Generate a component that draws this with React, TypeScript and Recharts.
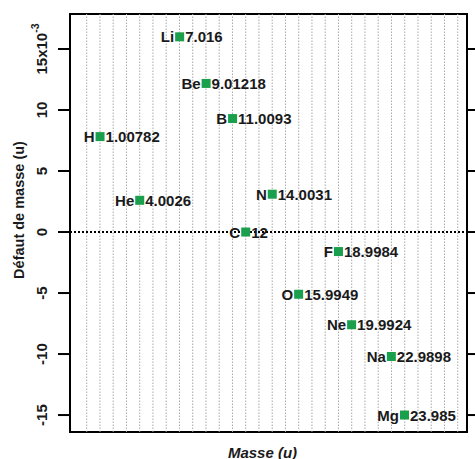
import { Label, ReferenceArea, ReferenceLine, Scatter, ScatterChart, XAxis, YAxis } from "recharts"

const symbols = ["H", "He", "Li", "Be", "B", "C", "N", "O", "F", "Ne", "Na", "Mg"]
const masses = [1.00782, 4.0026, 7.016, 9.01218, 11.0093, 12, 14.0031, 15.9949, 18.9984, 19.9924, 22.9898, 23.985]
const massLabels = ["1.00782", "4.0026", "7.016", "9.01218", "11.0093", "12", "14.0031", "15.9949", "18.9984", "19.9924", "22.9898", "23.985"]
// défaut de masse en 10^-3 u
const defects = [7.82, 2.6, 16.0, 12.18, 9.3, 0, 3.1, -5.1, -1.6, -7.6, -10.2, -15.0]

const yTicks = [-15, -10, -5, 0, 5, 10, 15]
const xGrid = [0, 1, 2, 3, 4, 5, 6, 7, 8, 9, 10, 11, 12, 13, 14, 15, 16, 17, 18, 19, 20, 21, 22, 23, 24, 25, 26, 27, 28]

const X_DOMAIN = [-1.26, 28.7]
const Y_DOMAIN = [-16.39, 17.87]

const data = symbols.map((s, i) => ({ sym: s, mass: masses[i], label: massLabels[i], defect: defects[i] }))

const FONT = "'Liberation Sans', Arial, Helvetica, sans-serif"
const GREEN = "#1a9f4c"

const PointShape = (props: any) => {
  const { cx, cy, payload } = props
  const s = 9
  return (
    <g>
      <rect x={cx - s / 2} y={cy - s / 2} width={s} height={s} fill={GREEN} />
      <text x={cx - s / 2 - 1} y={cy} textAnchor="end" dominantBaseline="central" fontFamily={FONT} fontWeight="bold" fontSize={15} fill="#1a1a1a">
        {payload.sym}
      </text>
      <text x={cx + s / 2 + 1} y={cy} textAnchor="start" dominantBaseline="central" fontFamily={FONT} fontWeight="bold" fontSize={15} fill="#1a1a1a">
        {payload.label}
      </text>
    </g>
  )
}

const LeftTick = (props: any) => {
  const { y, payload } = props
  const x = 41.5
  return (
    <text x={x} y={y} transform={`rotate(-90, ${x}, ${y})`} textAnchor="middle" dominantBaseline="central" fontFamily={FONT} fontWeight="bold" fontSize={15} fill="#1a1a1a">
      {payload.value === 15 ? (
        <>
          15x10
          <tspan dy={-6} fontSize={10.5}>-3</tspan>
        </>
      ) : (
        payload.value
      )}
    </text>
  )
}

export default function App() {
  return (
    <div style={{ position: "absolute", left: 0, top: 0, width: 475, height: 459, background: "#fff" }}>
      <ScatterChart width={475} height={459} margin={{ top: 14, right: 0, bottom: 0, left: 0 }}>
        <XAxis
          type="number"
          dataKey="mass"
          domain={X_DOMAIN}
          ticks={xGrid}
          allowDataOverflow
          height={27}
          tick={false}
          tickLine={false}
          axisLine={false}
        >
          <Label
            content={({ viewBox }: any) => (
              <text x={viewBox.x + viewBox.width / 2 - 6} y={viewBox.y + 20} textAnchor="middle" dominantBaseline="central" fontFamily={FONT} fontWeight="bold" fontStyle="italic" fontSize={15} fill="#1a1a1a">
                Masse (u)
              </text>
            )}
          />
        </XAxis>
        <YAxis
          yAxisId="left"
          type="number"
          dataKey="defect"
          domain={Y_DOMAIN}
          ticks={yTicks}
          allowDataOverflow
          width={70}
          tickSize={12}
          tickLine={{ stroke: "#000", strokeWidth: 2 }}
          axisLine={false}
          tick={<LeftTick />}
        >
          <Label
            content={({ viewBox }: any) => {
              const x = 18.5
              const y = viewBox.y + viewBox.height / 2 - 13
              return (
                <text x={x} y={y} transform={`rotate(-90, ${x}, ${y})`} textAnchor="middle" dominantBaseline="central" fontFamily={FONT} fontWeight="bold" fontSize={14.5} fill="#1a1a1a">
                  Défaut de masse (u)
                </text>
              )
            }}
          />
        </YAxis>
        <YAxis
          yAxisId="right"
          orientation="right"
          type="number"
          domain={Y_DOMAIN}
          ticks={yTicks}
          allowDataOverflow
          width={8}
          tickSize={8}
          tickLine={{ stroke: "#000", strokeWidth: 2 }}
          axisLine={false}
          tick={() => <g />}
        />
        {xGrid.map((v) => (
          <ReferenceLine key={v} yAxisId="left" x={v} stroke="#a8a8a8" strokeWidth={1} strokeDasharray="1.5 1.5" />
        ))}
        <ReferenceLine yAxisId="left" y={0} stroke="#000" strokeWidth={2} strokeDasharray="2 2" />
        <ReferenceArea
          yAxisId="left"
          x1={X_DOMAIN[0]}
          x2={X_DOMAIN[1]}
          y1={Y_DOMAIN[0]}
          y2={Y_DOMAIN[1]}
          fill="none"
          fillOpacity={0}
          stroke="#000"
          strokeWidth={2}
          ifOverflow="visible"
        />
        <Scatter yAxisId="left" data={data} shape={<PointShape />} isAnimationActive={false} />
      </ScatterChart>
    </div>
  )
}
